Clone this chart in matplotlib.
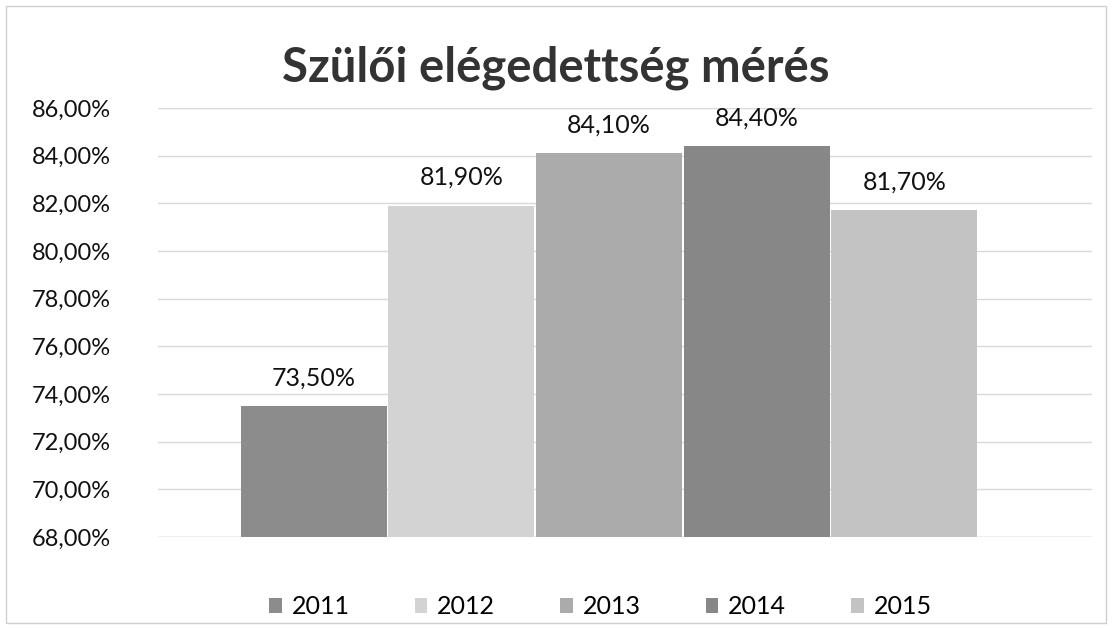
import matplotlib.pyplot as plt
from matplotlib.patches import Patch

years = ['2011', '2012', '2013', '2014', '2015']
values = [73.5, 81.9, 84.1, 84.4, 81.7]
labels = ['73,50%', '81,90%', '84,10%', '84,40%', '81,70%']
colors = ['#8c8c8c', '#d3d3d3', '#ababab', '#878787', '#c3c3c3']
yticks = [68, 70, 72, 74, 76, 78, 80, 82, 84, 86]

plt.rcParams['font.family'] = ['Lato', 'DejaVu Sans']

fig = plt.figure(figsize=(11.12, 6.29), dpi=100)
ax = fig.add_axes([0.142, 0.1463, 0.84, 0.682])

x = range(len(years))
ax.bar(x, [v - 68 for v in values], bottom=68, width=0.99, color=colors, zorder=2)

for i, v in enumerate(values):
    ax.annotate(labels[i], (i, v), xytext=(0, 12), textcoords='offset points',
                ha='center', va='bottom', fontsize=18, color='#111111')

ax.set_ylim(68, 86)
ax.set_xlim(-1.056, 5.272)
ax.set_yticks(yticks)
ax.set_yticklabels(['%d,00%%' % t for t in yticks], fontsize=17, color='#111111')
ax.set_xticks([])
ax.grid(axis='y', color='#d9d9d9', linewidth=1, zorder=0)
ax.tick_params(axis='y', length=0, pad=34)
for s in ax.spines.values():
    s.set_visible(False)
ax.axhline(68, color='#cfcfcf', linewidth=1, zorder=1)

fig.text(0.50, 0.893, 'Szülői elégedettség mérés', ha='center', va='center',
         fontsize=34, fontweight='bold', color='#333333')

handles = [Patch(facecolor=c, label=y) for c, y in zip(colors, years)]
fig.legend(handles=handles, loc='center', bbox_to_anchor=(0.54, 0.035),
           ncol=5, frameon=False, fontsize=18, handlelength=0.5, handleheight=0.5,
           columnspacing=2.6, handletextpad=0.4)

border = plt.Rectangle((0.005, 0.01), 0.99, 0.98, transform=fig.transFigure,
                       fill=False, edgecolor='#d0d0d0', linewidth=1)
fig.patches.append(border)

fig.savefig('out.png', dpi=100)
